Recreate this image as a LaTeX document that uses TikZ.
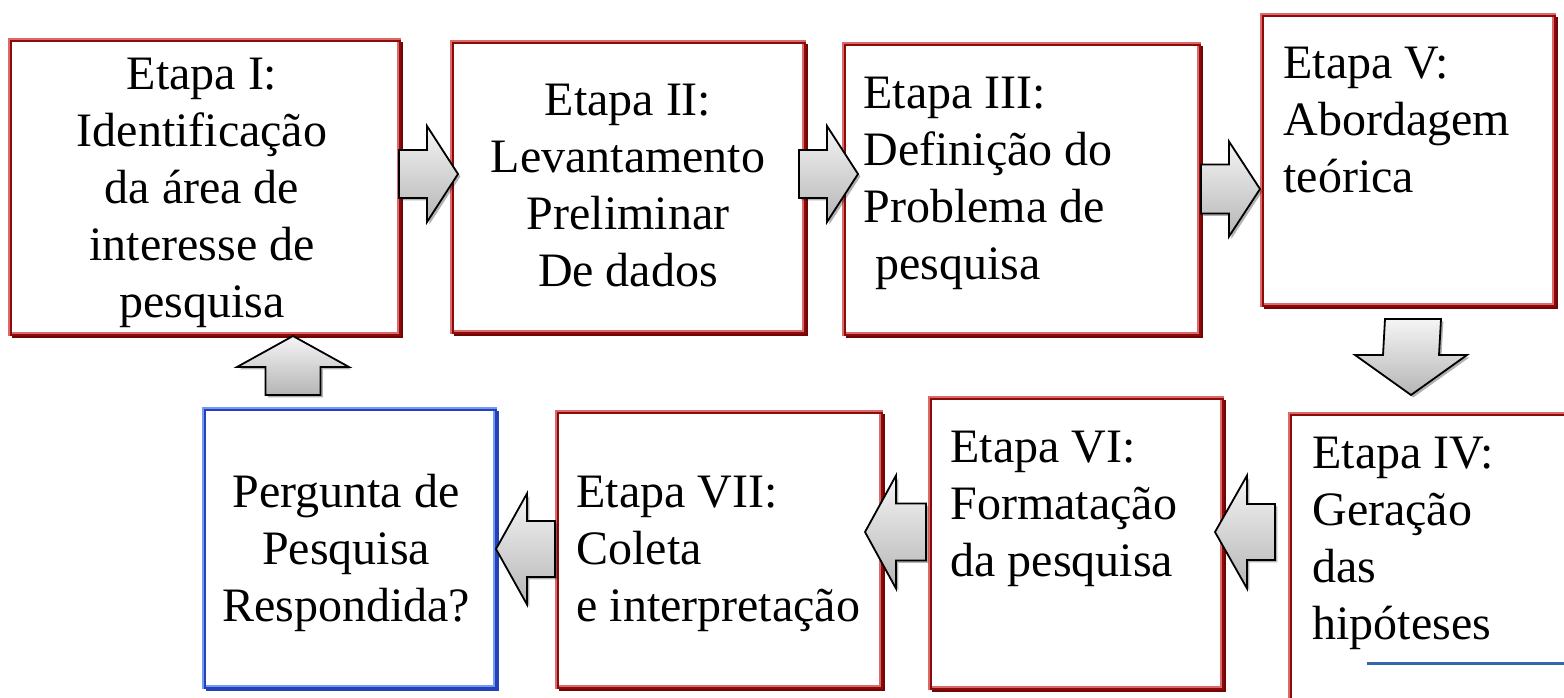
\documentclass[tikz,border=0pt]{standalone}
\usepackage{fontspec}
\setmainfont{Liberation Serif}
\usepackage{tikz}
\usetikzlibrary{calc}
\usetikzlibrary{shadows}
\definecolor{DarkRed}{rgb}{0.55,0.04,0.04}
\definecolor{LightRed}{rgb}{0.86,0.42,0.42}
\definecolor{ShadowRed}{rgb}{0.45,0.02,0.02}
\definecolor{DarkBlue}{rgb}{0.14,0.26,0.72}
\definecolor{LightBlue}{rgb}{0.45,0.6,0.96}
\definecolor{LineBlue}{rgb}{0.2,0.4,0.68}

% block arrow: tail, tip, dx, dy, half shaft, half head, head length
\newcommand{\blockarrow}[7]{%
  \path[blockarr] let \p1=(#1), \p2=(#2) in
    ({\x1-(#4)*#5},{\y1+(#3)*#5}) -- ({\x2-(#3)*#7-(#4)*#5},{\y2-(#4)*#7+(#3)*#5})
    -- ({\x2-(#3)*#7-(#4)*#6},{\y2-(#4)*#7+(#3)*#6}) -- (\p2)
    -- ({\x2-(#3)*#7+(#4)*#6},{\y2-(#4)*#7-(#3)*#6}) -- ({\x2-(#3)*#7+(#4)*#5},{\y2-(#4)*#7-(#3)*#5})
    -- ({\x1+(#4)*#5},{\y1-(#3)*#5}) -- cycle;}

\begin{document}
\begin{tikzpicture}[x=0.5pt,y=-0.5pt,
    stagebox/.style={rectangle,anchor=north west,inner sep=0pt,fill=white,draw=LightRed,line width=2pt,
      preaction={draw=ShadowRed,line width=1.3pt,transform canvas={shift={(1.5pt,-1.5pt)}}},
      postaction={draw=DarkRed,line width=1pt,transform canvas={shift={(0.6pt,-0.6pt)}}}},
    askbox/.style={stagebox,draw=LightBlue,
      preaction={draw=DarkBlue,line width=1.3pt,transform canvas={shift={(1.5pt,-1.5pt)}}},
      postaction={draw=DarkBlue,line width=1pt,transform canvas={shift={(0.6pt,-0.6pt)}}}},
    stagetext/.style={inner sep=0pt,font=\fontsize{24}{28.5}\selectfont,align=left,anchor=north west},
    midtext/.style={stagetext,align=center,anchor=north},
    blockarr/.style={draw=black,line width=0.9pt,line join=miter,top color=gray!8,bottom color=gray!58,
      drop shadow={shadow xshift=1.2pt,shadow yshift=-1.2pt,opacity=0.3,fill=black}}]
  \useasboundingbox (0,0) rectangle (1564,697);
  \clip (0,0) rectangle (1564,697);
  % boxes
  \node[stagebox,minimum width=194.5pt,minimum height=147pt] (b1) at (8,38) {};
  \node[stagebox,minimum width=176pt,minimum height=145pt] (b2) at (450,40) {};
  \node[stagebox,minimum width=177.5pt,minimum height=145pt] (b3) at (842,42) {};
  \node[stagebox,minimum width=146pt,minimum height=145pt] (b5) at (1260,13) {};
  \node[stagebox,minimum width=151pt,minimum height=146.5pt] (b4) at (1288,412) {};
  \node[stagebox,minimum width=146pt,minimum height=145pt] (b6) at (928,396) {};
  \node[stagebox,minimum width=162pt,minimum height=137.5pt] (b7) at (555,410) {};
  \node[askbox,minimum width=145.5pt,minimum height=139pt] (bq) at (202,407) {};
  % texts
  \node[midtext] (t1) at ($(b1.north)+(-2.5,19.5)$) {Etapa I:\\Identificação\\da área de\\interesse de\\pesquisa};
  \node[midtext] (t2) at ($(b2.north)+(0,43.5)$) {Etapa II:\\Levantamento\\Preliminar\\De dados};
  \node[stagetext] (t3) at ($(b3.north west)+(21,34.5)$) {Etapa III:\\Definição do\\Problema de\\\hspace*{6pt}pesquisa};
  \node[stagetext] (t5) at ($(b5.north west)+(23,33.5)$) {Etapa V:\\Abordagem\\teórica};
  \node[stagetext] (t4) at ($(b4.north west)+(24,24.5)$) {Etapa IV:\\Geração\\das\\hipóteses};
  \node[stagetext] (t6) at ($(b6.north west)+(22,34.5)$) {Etapa VI:\\Formatação\\da pesquisa};
  \node[stagetext] (t7) at ($(b7.north west)+(21,65.5)$) {Etapa VII:\\Coleta\\e interpretação};
  \node[midtext] (tq) at ($(bq.north)+(-3.5,66.5)$) {Pergunta de\\Pesquisa\\Respondida?};
  % arrows
  \blockarrow{$(b1.east)+(-2,-13)$}{$(b2.west)+(8,-13)$}{1}{0}{12pt}{24pt}{15.5pt}
  \blockarrow{$(b2.east)+(-7,-13)$}{$(b3.west)+(16,-15)$}{1}{0}{12pt}{24pt}{15.5pt}
  \blockarrow{$(b3.east)+(0,0)$}{$(b5.west)+(0,29)$}{1}{0}{12.25pt}{23.75pt}{15.5pt}
  \blockarrow{$(b5.south)+(5,12)$}{$(b4.north west)+(123,-17)$}{0}{-1}{14pt}{28pt}{20pt}
  \blockarrow{$(b4.west)+(-13,-28.5)$}{$(b6.east)+(-9,-11)$}{-1}{0}{14pt}{28.25pt}{16pt}
  \blockarrow{$(b6.west)+(-2,-11)$}{$(b7.east)+(-18,-17.5)$}{-1}{0}{14.25pt}{28.25pt}{15.5pt}
  \blockarrow{$(b7.west)+(0,-0.5)$}{$(bq.east)+(-1,1)$}{-1}{0}{14pt}{27.75pt}{15.5pt}
  \blockarrow{$(bq.north)+(-56.5,-12)$}{$(b1.south)+(88.5,0)$}{0}{1}{13.75pt}{28pt}{15.5pt}
  % stray line
  \draw[LineBlue,line width=1.5pt] (1367,663) -- (1564,663);
\end{tikzpicture}
\end{document}
